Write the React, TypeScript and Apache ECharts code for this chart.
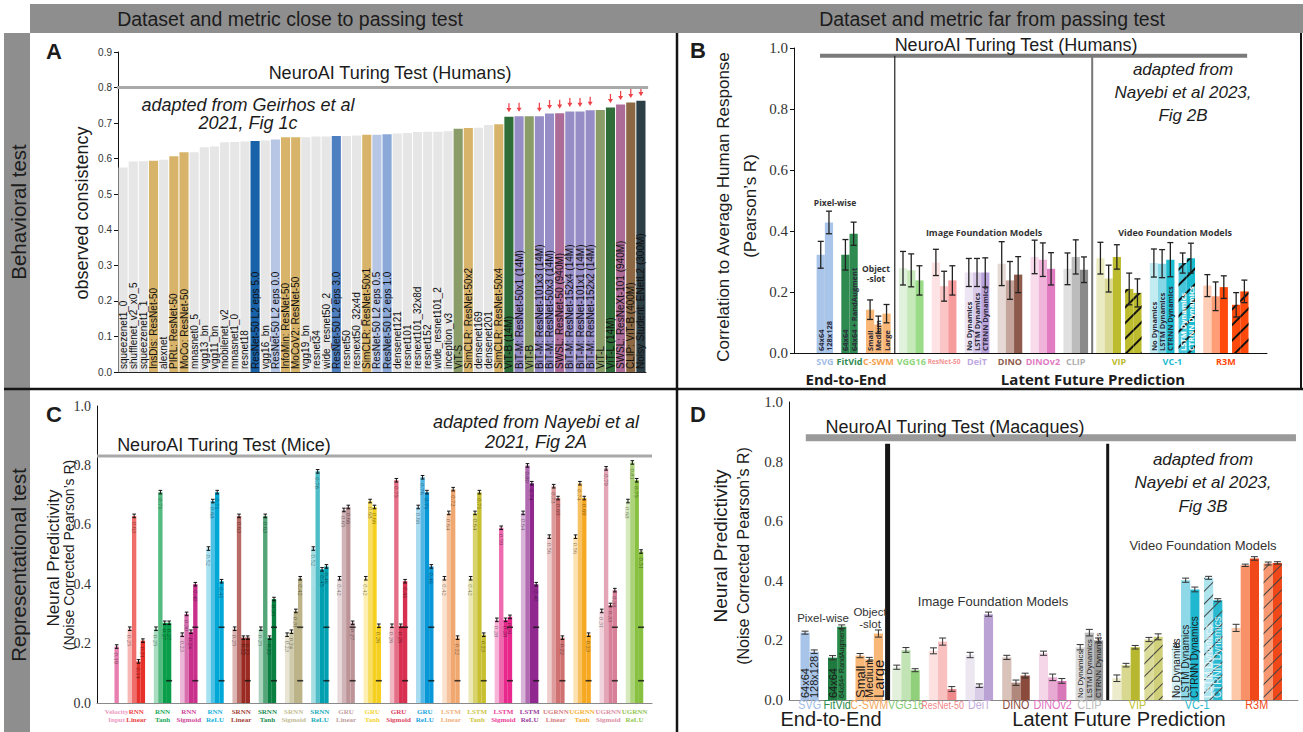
import React, { useEffect, useRef } from "react";
import * as echarts from "echarts";

/* ---------------- Panel A: behavioural consistency (Geirhos et al 2021) ---------------- */
const aModels = [
  "squeezenet1_0", "shufflenet_v2_x0_5", "squeezenet1_1", "InsDis: ResNet-50", "alexnet",
  "PIRL: ResNet-50", "MoCo: ResNet-50", "mnasnet0_5", "vgg13_bn", "vgg11_bn",
  "mobilenet_v2", "mnasnet1_0", "resnet18", "ResNet-50 L2 eps 5.0", "vgg16_bn",
  "ResNet-50 L2 eps 0.0", "InfoMin: ResNet-50", "MoCoV2: ResNet-50", "vgg19_bn", "resnet34",
  "wide_resnet50_2", "ResNet-50 L2 eps 3.0", "resnet50", "resnext50_32x4d", "SimCLR: ResNet-50x1",
  "ResNet-50 L2 eps 0.5", "ResNet-50 L2 eps 1.0", "densenet121", "resnet101", "resnext101_32x8d",
  "resnet152", "wide_resnet101_2", "inception_v3", "ViT-S", "SimCLR: ResNet-50x2",
  "densenet169", "densenet201", "SimCLR: ResNet-50x4", "ViT-B (14M)", "BiT-M: ResNet-50x1 (14M)",
  "ViT-B", "BiT-M: ResNet-101x3 (14M)", "BiT-M: ResNet-50x3 (14M)", "SWSL: ResNet-50 (940M)", "BiT-M: ResNet-152x4 (14M)",
  "BiT-M: ResNet-101x1 (14M)", "BiT-M: ResNet-152x2 (14M)", "ViT-L", "ViT-L (14M)", "SWSL: ResNeXt-101 (940M)",
  "CLIP: ViT-B (400M)", "Noisy Student: ENetL2 (300M)",
];
const aConsistency = [
  0.575, 0.592, 0.593, 0.594, 0.597,
  0.607, 0.618, 0.618, 0.632, 0.634,
  0.646, 0.647, 0.648, 0.650, 0.651,
  0.654, 0.660, 0.660, 0.660, 0.662,
  0.662, 0.664, 0.664, 0.665, 0.667,
  0.667, 0.669, 0.671, 0.672, 0.675,
  0.676, 0.676, 0.677, 0.684, 0.686,
  0.687, 0.695, 0.697, 0.718, 0.719,
  0.719, 0.719, 0.727, 0.728, 0.733,
  0.733, 0.736, 0.737, 0.744, 0.752,
  0.758, 0.763,
];
const aFamily = [
  "plain", "plain", "plain", "ssl", "plain",
  "ssl", "ssl", "plain", "plain", "plain",
  "plain", "plain", "plain", "rob5", "plain",
  "rob0", "ssl", "ssl", "plain", "plain",
  "plain", "rob3", "plain", "plain", "ssl",
  "rob0", "rob1", "plain", "plain", "plain",
  "plain", "plain", "plain", "vit", "ssl",
  "plain", "plain", "ssl", "vit14", "bit",
  "vit", "bit", "bit", "swsl", "bit",
  "bit", "bit", "vit", "vit14", "swsl",
  "clip", "noisy",
];
const aArrow = [
  0, 0, 0, 0, 0, 0, 0, 0, 0, 0,
  0, 0, 0, 0, 0, 0, 0, 0, 0, 0,
  0, 0, 0, 0, 0, 0, 0, 0, 0, 0,
  0, 0, 0, 0, 0, 0, 0, 0, 1, 1,
  0, 1, 1, 1, 1, 1, 1, 0, 1, 1,
  1, 1,
];
const aTuring = 0.8;

/* ---------------- Panel B: correlation to human responses ---------------- */
const bGroups = ["SVG", "FitVid", "C-SWM", "VGG16", "ResNet-50", "DeiT", "DINO", "DINOv2", "CLIP", "VIP", "VC-1", "R3M"];
const bMeans = [
  [0.322, 0.428], [0.322, 0.391], [0.142, 0.093, 0.129],
  [0.278, 0.271, 0.238], [0.297, 0.219, 0.238], [0.264, 0.264, 0.264],
  [0.293, 0.238, 0.257], [0.315, 0.306, 0.276], [0.276, 0.315, 0.273],
  [0.311, 0.244, 0.315, 0.21, 0.197], [0.295, 0.293, 0.306, 0.295, 0.311], [0.221, 0.186, 0.216, 0.158, 0.202],
];
const bErrs = [
  [0.044, 0.037], [0.05, 0.038], [0.032, 0.028, 0.03],
  [0.055, 0.054, 0.048], [0.043, 0.049, 0.048], [0.046, 0.046, 0.048],
  [0.072, 0.062, 0.059], [0.055, 0.055, 0.053], [0.052, 0.056, 0.042],
  [0.052, 0.044, 0.04, 0.052, 0.046], [0.046, 0.046, 0.056, 0.033, 0.049], [0.036, 0.047, 0.037, 0.04, 0.037],
];
const bHatched = [
  [0, 0], [0, 0], [0, 0, 0], [0, 0, 0], [0, 0, 0], [0, 0, 0], [0, 0, 0], [0, 0, 0], [0, 0, 0],
  [0, 0, 0, 1, 1], [0, 0, 0, 1, 1], [0, 0, 0, 1, 1],
];
const bBarNames = [
  ["64x64", "128x128"], ["64x64", "64x64 + RandAugment"], ["Small", "Medium", "Large"],
  [], [], ["No Dynamics", "LSTM Dynamics", "CTRNN Dynamics"], [], [], [], [],
  ["No Dynamics", "LSTM Dynamics", "CTRNN Dynamics", "LSTM Dynamics", "CTRNN Dynamics"], [],
];
const bTuring = 0.975;

/* ---------------- Panel C: mouse neural predictivity (Nayebi et al 2021) ---------------- */
const cGroups = [
  "Velocity\nInput", "RNN\nLinear", "RNN\nTanh", "RNN\nSigmoid", "RNN\nReLU",
  "SRNN\nLinear", "SRNN\nTanh", "SRNN\nSigmoid", "SRNN\nReLU",
  "GRU\nLinear", "GRU\nTanh", "GRU\nSigmoid", "GRU\nReLU",
  "LSTM\nLinear", "LSTM\nTanh", "LSTM\nSigmoid", "LSTM\nReLU",
  "UGRNN\nLinear", "UGRNN\nTanh", "UGRNN\nSigmoid", "UGRNN\nReLU",
];
const cScores = [
  [0.19],
  [0.25, 0.63, 0.14, 0.21], [0.25, 0.71, 0.27, 0.27], [0.23, 0.30, 0.24, 0.40], [0.52, 0.68, 0.71, 0.41],
  [0.25, 0.63, 0.22, 0.22], [0.25, 0.63, 0.22, 0.35], [0.23, 0.24, 0.31, 0.42], [0.52, 0.78, 0.45, 0.46],
  [0.42, 0.65, 0.66, 0.27], [0.42, 0.68, 0.66, 0.26], [0.26, 0.75, 0.26, 0.41], [0.66, 0.76, 0.71, 0.46],
  [0.42, 0.64, 0.72, 0.22], [0.42, 0.64, 0.71, 0.23], [0.28, 0.59, 0.28, 0.29], [0.64, 0.80, 0.74, 0.40],
  [0.56, 0.73, 0.69, 0.22], [0.56, 0.74, 0.69, 0.23], [0.31, 0.79, 0.33, 0.38], [0.68, 0.81, 0.75, 0.51],
];
const cErr = 0.006;
const cLowMark = 0.075;
const cHighMark = 0.255;
const cHasLowMark = [0, 0, 1, 1, 1, 1, 1, 1, 1, 1, 1, 1, 1, 1, 1, 1, 1, 1, 1, 1, 1];
const cHasHighMark = [0, 0, 0, 1, 1, 0, 1, 1, 1, 1, 0, 1, 1, 0, 0, 1, 1, 0, 0, 1, 1];
const cTuring = 0.832;

/* ---------------- Panel D: macaque neural predictivity (Nayebi et al 2023) ---------------- */
const dGroups = ["SVG", "FitVid", "C-SWM", "VGG16", "ResNet-50", "DeiT", "DINO", "DINOv2", "CLIP", "VIP", "VC-1", "R3M"];
const dMeans = [
  [0.226, 0.162], [0.142, 0.246], [0.149, 0.136, 0.223],
  [0.11, 0.168, 0.10], [0.165, 0.196, 0.037], [0.151, 0.048, 0.288],
  [0.143, 0.058, 0.082], [0.157, 0.076, 0.064], [0.177, 0.226, 0.20],
  [0.073, 0.117, 0.177, 0.203, 0.212], [0.184, 0.402, 0.371, 0.41, 0.335], [0.242, 0.452, 0.475, 0.458, 0.46],
];
const dErrs = [
  [0.005, 0.006], [0.007, 0.006], [0.007, 0.007, 0.012],
  [0.007, 0.008, 0.005], [0.01, 0.012, 0.008], [0.009, 0.006, 0.007],
  [0.007, 0.009, 0.008], [0.007, 0.011, 0.008], [0.009, 0.011, 0.008],
  [0.011, 0.006, 0.006, 0.007, 0.01], [0.005, 0.007, 0.008, 0.005, 0.005], [0.012, 0.004, 0.006, 0.005, 0.004],
];
const dHatched = [
  [0, 0], [0, 0], [0, 0, 0], [0, 0, 0], [0, 0, 0], [0, 0, 0], [0, 0, 0], [0, 0, 0], [0, 0, 0],
  [0, 0, 0, 1, 1], [0, 0, 0, 1, 1], [0, 0, 0, 1, 1],
];
const dBarNames = [
  ["64x64", "128x128"], ["64x64", "64x64+ RandAugment"], ["Small", "Medium", "Large"],
  [], [], [], [], [], ["No Dynamics", "LSTM Dynamics", "CTRNN Dynamics"], [],
  ["No Dynamics", "LSTM Dynamics", "CTRNN Dynamics", "LSTM Dynamics", "CTRNN Dynamics"], [],
];
const dTuring = 0.88;

/* ---------------- styles & layout ---------------- */
const SANS = '"Liberation Sans", Arial, Helvetica, sans-serif';
const SERIF = '"Liberation Serif", "Times New Roman", serif';
const MYRIAD = '"Open Sans", "Noto Sans", sans-serif';

const GA = { left: 118, top: 52, width: 528, height: 320 };
const GB = { left: 794, top: 48, width: 473, height: 305 };
const GC = { left: 97, top: 406, width: 555, height: 297 };
const GD = { left: 789, top: 402, width: 509, height: 298 };
// half-bar unit layout for B and D
const B_UNITS = { lead: 5.5, gap: 2, sub: 1, total: 115 };
const D_UNITS = { lead: 2.5, gap: 2, sub: 1, total: 111 };

const aColor: Record<string, string> = {
  plain: "#e6e6e6", ssl: "#d8b46a", rob0: "#b8c6e6", rob1: "#8aa8d8", rob3: "#4d7fc1", rob5: "#1862aa",
  vit: "#8a9d69", vit14: "#2f6e38", bit: "#978dc6", swsl: "#ad6b98", clip: "#8b6843", noisy: "#2c3e46",
};
const bPalette: Record<string, string[]> = {
  SVG: ["#a9c5e9", "#a9c5e9"],
  FitVid: ["#2f8a50", "#2f8a50"],
  "C-SWM": ["#f9b877", "#f9b877", "#f9b877"],
  VGG16: ["#e1f2dc", "#c5e9b8", "#9bdc88"],
  "ResNet-50": ["#fde3e3", "#fbc5c5", "#f79c9c"],
  DeiT: ["#ede5f3", "#d9cae9", "#bba4db"],
  DINO: ["#e6d8d4", "#c4a49b", "#8e5a4c"],
  DINOv2: ["#f8dcec", "#f0b4da", "#e27cc2"],
  CLIP: ["#e0e0e0", "#bcbcbc", "#8a8a8a"],
  VIP: ["#ececc4", "#dada96", "#bcbc2e", "#bcbc2e", "#bcbc2e"],
  "VC-1": ["#c2ebf2", "#86d7e5", "#1cbcd0", "#46c6d9", "#1cbcd0"],
  R3M: ["#ffcdb5", "#ff9d76", "#ff4a0c", "#ff4a0c", "#ff4a0c"],
};
const bLabelColor: Record<string, string> = {
  SVG: "#9fbce6", FitVid: "#2f8a50", "C-SWM": "#f5a050", VGG16: "#8fd67c", "ResNet-50": "#f59292",
  DeiT: "#c0a8e0", DINO: "#8e5a4c", DINOv2: "#e27cc2", CLIP: "#b0b0b0", VIP: "#bcbc2e", "VC-1": "#1cbcd0", R3M: "#ff4a0c",
};
const dPalette: Record<string, string[]> = {
  SVG: ["#a8c4e8", "#a8c4e8"],
  FitVid: ["#1f7a40", "#2a8c4c"],
  "C-SWM": ["#f9b878", "#f9b878", "#f9b878"],
  VGG16: ["#e2f0dc", "#c2e4b4", "#90d07a"],
  "ResNet-50": ["#fde0e0", "#f9c0c0", "#ef8a8a"],
  DeiT: ["#ece6f0", "#d9cce6", "#bba2d4"],
  DINO: ["#d9c2ba", "#b0897c", "#8a4a3c"],
  DINOv2: ["#f4d6e8", "#e8aad2", "#d878b8"],
  CLIP: ["#dcdcdc", "#bebebe", "#9a9a9a"],
  VIP: ["#ececcc", "#d8d890", "#b8b830", "#dcdc9a", "#d0d07a"],
  "VC-1": ["#d4f0f6", "#8ed8e8", "#20b8d0", "#aee4ee", "#28b8d0"],
  R3M: ["#fcc8a8", "#f89068", "#f04818", "#f89870", "#f04818"],
};
const dLabelColor: Record<string, string> = {
  SVG: "#a0bce6", FitVid: "#2a8c4c", "C-SWM": "#f5a860", VGG16: "#88cc78", "ResNet-50": "#f08888",
  DeiT: "#c4acdc", DINO: "#8a4a3c", DINOv2: "#e070c0", CLIP: "#bbbbbb", VIP: "#c0c030", "VC-1": "#28b8d0", R3M: "#f04818",
};
const dBarLabelSize: Record<string, number[]> = {
  SVG: [11, 11], FitVid: [11, 7], "C-SWM": [13, 11, 15], CLIP: [8, 8, 8], "VC-1": [10, 10, 10, 10, 10],
};
const cBase = [
  "#e87fb0", "#e8302a", "#0a9e4a", "#c8308c", "#00a8d8",
  "#9a2a22", "#0a8040", "#bcb488", "#00a0b0",
  "#bc9498", "#f5d020", "#d83050", "#0898d8",
  "#f0a870", "#c8c030", "#e8288c", "#902890",
  "#d07070", "#f5a820", "#d88098", "#88c040",
];
const cShade = [0.35, 0.7, 1, 1];

function mix(hex: string, f: number) {
  const n = parseInt(hex.slice(1), 16);
  const r = (n >> 16) & 255, g = (n >> 8) & 255, b = n & 255;
  const m = (c: number) => Math.round(255 - (255 - c) * f);
  return `rgb(${m(r)},${m(g)},${m(b)})`;
}

// C: one category per bar, gaps are empty categories
function buildSlots(sizes: number[], lead: number, gap: number, trail: number) {
  const slots: ({ g: number; i: number } | null)[] = [];
  const start: number[] = [];
  for (let k = 0; k < lead; k++) slots.push(null);
  sizes.forEach((n, g) => {
    if (g > 0) for (let k = 0; k < gap; k++) slots.push(null);
    start.push(slots.length);
    for (let i = 0; i < n; i++) slots.push({ g, i });
  });
  for (let k = 0; k < trail; k++) slots.push(null);
  return { slots, start };
}

// B, D: categories are half-bar units; each bar is centred on a category and spans two units
function buildUnits(sizes: number[], hatched: number[][], cfg: { lead: number; gap: number; sub: number }) {
  const pos: number[][] = [];
  const left: number[] = [];
  const right: number[] = [];
  let e = cfg.lead;
  sizes.forEach((n, g) => {
    if (g > 0) e += cfg.gap;
    left.push(e);
    const p: number[] = [];
    for (let i = 0; i < n; i++) {
      if (i > 0 && hatched[g][i] && !hatched[g][i - 1]) e += cfg.sub;
      p.push(e + 0.5);
      e += 2;
    }
    right.push(e);
    pos.push(p);
  });
  return { pos, left, right };
}

const txt = (text: string, x: number, y: number, size: number, o: any = {}) => ({
  type: "text",
  x,
  y,
  rotation: o.rot || 0,
  scaleX: o.sx || 1,
  z: 20,
  silent: true,
  style: {
    text,
    fill: o.color || "#1c1c1c",
    font: `${o.style || "normal"} ${o.weight || "normal"} ${size}px ${o.family || SANS}`,
    align: o.align || "center",
    verticalAlign: o.va || "middle",
    textAlign: o.align || "center",
    textVerticalAlign: o.va || "middle",
    lineHeight: o.lh || size * 1.2,
  },
});

function errSeries(idx: number, data: number[][], cap: number, lw: number, color: string) {
  return {
    type: "custom",
    xAxisIndex: idx,
    yAxisIndex: idx,
    silent: true,
    z: 6,
    data,
    renderItem: (_p: any, api: any) => {
      const x = api.value(0), lo = api.value(1), hi = api.value(2);
      const a = api.coord([x, lo]);
      const b = api.coord([x, hi]);
      const st = { stroke: color, lineWidth: lw };
      const children: any[] = [{ type: "line", shape: { x1: a[0], y1: a[1], x2: b[0], y2: b[1] }, style: st }];
      if (cap > 0) {
        children.push({ type: "line", shape: { x1: a[0] - cap, y1: a[1], x2: a[0] + cap, y2: a[1] }, style: st });
        children.push({ type: "line", shape: { x1: b[0] - cap, y1: b[1], x2: b[0] + cap, y2: b[1] }, style: st });
      }
      return { type: "group", children };
    },
  };
}

function hLine(idx: number, value: number, f0: number, f1: number, color: string, width: number) {
  return {
    type: "custom",
    xAxisIndex: idx,
    yAxisIndex: idx,
    silent: true,
    z: 5,
    data: [[0, value]],
    renderItem: (p: any, api: any) => {
      const cs = p.coordSys;
      const y = api.coord([0, api.value(1)])[1];
      return {
        type: "line",
        shape: { x1: cs.x + f0 * cs.width, y1: y, x2: cs.x + f1 * cs.width, y2: y },
        style: { stroke: color, lineWidth: width },
      };
    },
  };
}

function catAxis(gi: number, data: string[], lineColor: string) {
  return {
    type: "category",
    gridIndex: gi,
    data,
    axisLine: { show: true, lineStyle: { color: lineColor, width: 1 } },
    axisTick: { show: false },
    axisLabel: { show: false },
    splitLine: { show: false },
  };
}
function valAxis(gi: number, max: number, interval: number, size: number, family: string, ticks: boolean) {
  return {
    type: "value",
    gridIndex: gi,
    min: 0,
    max,
    interval,
    axisLine: { show: true, lineStyle: { color: "#111", width: 1 } },
    axisTick: { show: ticks, length: 4, lineStyle: { color: "#111" } },
    splitLine: { show: false },
    axisLabel: { fontSize: size, fontFamily: family, color: "#333", margin: 6, formatter: (v: number) => v.toFixed(1) },
  };
}

function unitBars(
  lay: { pos: number[][] }, total: number,
  groups: string[], means: number[][], palette: Record<string, string[]>,
  hatched: number[][], names: string[][], decal: any, labelFn: (g: string, i: number, hatched: boolean) => any
) {
  const data: any[] = Array.from({ length: total }, () => "-");
  lay.pos.forEach((p, gi) => {
    p.forEach((k, i) => {
      const g = groups[gi];
      const h = !!hatched[gi][i];
      const item: any = { value: means[gi][i], itemStyle: { color: palette[g][i] } };
      if (h) item.itemStyle.decal = decal;
      const t = names[gi][i];
      if (t) item.label = { show: true, formatter: t, ...labelFn(g, i, h) };
      data[k] = item;
    });
  });
  return data;
}

function buildOption() {
  const bLay = buildUnits(bMeans.map((a) => a.length), bHatched, B_UNITS);
  const cLay = buildSlots(cScores.map((a) => a.length), 4, 2, 2);
  const dLay = buildUnits(dMeans.map((a) => a.length), dHatched, D_UNITS);
  const names = (n: number) => Array.from({ length: n }, (_, k) => "u" + k);
  const bU = GB.width / B_UNITS.total;
  const dU = GD.width / D_UNITS.total;

  const series: any[] = [];

  /* ---- A ---- */
  series.push({
    type: "bar",
    xAxisIndex: 0,
    yAxisIndex: 0,
    barCategoryGap: "10%",
    data: aConsistency.map((v, i) => ({ value: v, itemStyle: { color: aColor[aFamily[i]] } })),
    label: {
      show: true,
      formatter: (p: any) => aModels[p.dataIndex],
      position: "insideBottom",
      rotate: 90,
      align: "left",
      verticalAlign: "middle",
      distance: 3,
      fontSize: 10,
      fontFamily: SANS,
      color: "#111",
    },
  });
  series.push({
    type: "scatter",
    xAxisIndex: 0,
    yAxisIndex: 0,
    symbol: "path://M3,0 L5,0 L5,6 L8,6 L4,11 L0,6 L3,6 Z",
    symbolSize: [5, 9],
    symbolOffset: [0, -9],
    itemStyle: { color: "#e8141c" },
    data: aConsistency.map((v, i) => (aArrow[i] ? [i, v] : null)).filter((d) => d),
  });
  series.push(hLine(0, aTuring, -0.002, 1.004, "#a9a9a9", 3));

  /* ---- B ---- */
  const bDecal = { symbol: "rect", symbolSize: 1, dashArrayX: [1, 0], dashArrayY: [1.3, 9], rotation: -Math.PI / 4, color: "#111" };
  series.push({
    type: "bar",
    xAxisIndex: 1,
    yAxisIndex: 1,
    barWidth: 2 * bU,
    data: unitBars(bLay, B_UNITS.total, bGroups, bMeans, bPalette, bHatched, bBarNames, bDecal, (_g, _i, h) => ({
      position: "insideBottom",
      rotate: 90,
      align: "left",
      verticalAlign: "middle",
      distance: 2,
      fontSize: 7.5,
      fontWeight: "bold",
      fontFamily: MYRIAD,
      color: h ? "#ffffff" : "#2a2a3a",
    })),
  });
  const bErrData: number[][] = [];
  bLay.pos.forEach((p, g) => p.forEach((k, i) => bErrData.push([k, bMeans[g][i] - bErrs[g][i], bMeans[g][i] + bErrs[g][i]])));
  series.push(errSeries(1, bErrData, 3, 1.3, "#222"));
  series.push(hLine(1, bTuring, 0.055, 0.958, "#7a7a7a", 4));
  series.push(errSeries(1, [[bLay.right[2] + 0.5, 0, bTuring]], 0, 1.2, "#222"));
  series.push(errSeries(1, [[bLay.right[8] + 0.5, 0, bTuring]], 0, 2, "#777"));

  /* ---- C ---- */
  series.push({
    type: "bar",
    xAxisIndex: 2,
    yAxisIndex: 2,
    barCategoryGap: 0,
    data: cLay.slots.map((s) => {
      if (!s) return "-";
      const n = cScores[s.g].length;
      const f = n === 1 ? 1 : cShade[s.i];
      return { value: cScores[s.g][s.i], itemStyle: { color: mix(cBase[s.g], f) } };
    }),
    label: {
      show: true,
      position: "insideTop",
      rotate: -90,
      align: "left",
      verticalAlign: "middle",
      distance: 6,
      fontSize: 6.5,
      fontFamily: SERIF,
      color: "rgba(0,0,0,0.5)",
      formatter: (p: any) => Number(p.value).toFixed(2),
    },
  });
  const cErrData: number[][] = [];
  cLay.slots.forEach((s, k) => {
    if (s) cErrData.push([k, cScores[s.g][s.i] - cErr, cScores[s.g][s.i] + cErr]);
  });
  series.push(errSeries(2, cErrData, 1.8, 1, "#111"));
  const cMarks: number[][] = [];
  cGroups.forEach((_, g) => {
    const last = cLay.start[g] + cScores[g].length - 1;
    if (cHasLowMark[g]) cMarks.push([last, cLowMark]);
    if (cHasHighMark[g]) cMarks.push([last, cHighMark]);
  });
  series.push({
    type: "scatter",
    xAxisIndex: 2,
    yAxisIndex: 2,
    symbol: "rect",
    symbolSize: [6, 1.6],
    itemStyle: { color: "#111" },
    z: 7,
    data: cMarks,
  });
  series.push(hLine(2, cTuring, 0, 1, "#a9a9a9", 3));

  /* ---- D ---- */
  const dDecal = { symbol: "rect", symbolSize: 1, dashArrayX: [1, 0], dashArrayY: [0.8, 8], rotation: -Math.PI / 4, color: "#444" };
  series.push({
    type: "bar",
    xAxisIndex: 3,
    yAxisIndex: 3,
    barWidth: 2 * dU,
    data: unitBars(dLay, D_UNITS.total, dGroups, dMeans, dPalette, dHatched, dBarNames, dDecal, (g, i, h) => ({
      position: "insideBottom",
      rotate: 90,
      align: "left",
      verticalAlign: "middle",
      distance: 2,
      fontSize: (dBarLabelSize[g] || [9, 9, 9, 9, 9])[i],
      fontFamily: SANS,
      color: h ? "rgba(255,255,255,0.85)" : "#1a1a1a",
    })),
  });
  const dErrData: number[][] = [];
  dLay.pos.forEach((p, g) => p.forEach((k, i) => dErrData.push([k, dMeans[g][i] - dErrs[g][i], dMeans[g][i] + dErrs[g][i]])));
  series.push(errSeries(3, dErrData, 3.5, 1, "#333"));
  series.push(hLine(3, dTuring, 0.033, 0.996, "#9a9a9a", 7));
  series.push(errSeries(3, [[dLay.right[2] + 0.5, 0, 0.86]], 0, 5, "#151515"));
  series.push(errSeries(3, [[dLay.right[8] + 0.5, 0, 0.86]], 0, 3, "#151515"));

  /* ---- graphic: frames, titles, annotations ---- */
  const gfx: any[] = [];
  gfx.push({ type: "rect", silent: true, z: 0, shape: { x: 30, y: 4, width: 1273, height: 29 }, style: { fill: "#8e8e8e" } });
  gfx.push({ type: "rect", silent: true, z: 0, shape: { x: 4, y: 33, width: 26, height: 699 }, style: { fill: "#8e8e8e" } });
  gfx.push({ type: "line", silent: true, z: 1, shape: { x1: 4, y1: 389, x2: 1303, y2: 389 }, style: { stroke: "#141414", lineWidth: 2.5 } });
  gfx.push({ type: "line", silent: true, z: 1, shape: { x1: 677, y1: 33, x2: 677, y2: 732 }, style: { stroke: "#141414", lineWidth: 2.5 } });
  gfx.push({ type: "line", silent: true, z: 1, shape: { x1: 1301, y1: 33, x2: 1301, y2: 389 }, style: { stroke: "#141414", lineWidth: 2 } });

  gfx.push(txt("Dataset and metric close to passing test", 290, 19, 19.5));
  gfx.push(txt("Dataset and metric far from passing test", 992, 19, 19.5));
  gfx.push(txt("Behavioral test", 18, 212, 20.5, { rot: Math.PI / 2 }));
  gfx.push(txt("Representational test", 18, 565, 20.5, { rot: Math.PI / 2 }));

  gfx.push(txt("A", 54, 51, 22, { weight: "bold" }));
  gfx.push(txt("B", 698, 50, 22, { weight: "bold" }));
  gfx.push(txt("C", 54, 414, 22, { weight: "bold" }));
  gfx.push(txt("D", 698, 414, 22, { weight: "bold" }));

  // A
  gfx.push(txt("NeuroAI Turing Test (Humans)", 390, 73, 18));
  gfx.push(txt("adapted from Geirhos et al", 248, 105, 18, { style: "italic" }));
  gfx.push(txt("2021, Fig 1c", 248, 123, 18, { style: "italic" }));
  gfx.push(txt("observed consistency", 82, 213, 18, { rot: Math.PI / 2 }));

  // B
  gfx.push(txt("NeuroAI Turing Test (Humans)", 1016, 45, 18));
  gfx.push(txt("adapted from", 1183, 69, 17, { style: "italic" }));
  gfx.push(txt("Nayebi et al 2023,", 1183, 92, 17, { style: "italic" }));
  gfx.push(txt("Fig 2B", 1183, 115, 17, { style: "italic" }));
  gfx.push(txt("Correlation to Average Human Response", 723, 207, 17, { rot: Math.PI / 2 }));
  gfx.push(txt("(Pearson\u2019s R)", 750, 206, 17, { rot: Math.PI / 2 }));
  bGroups.forEach((g, k) => {
    const cx = GB.left + ((bLay.left[k] + bLay.right[k]) / 2) * bU;
    gfx.push(txt(g, cx, 361, g === "ResNet-50" ? 6.5 : 9, { weight: "bold", family: MYRIAD, color: bLabelColor[g] }));
  });
  gfx.push(txt("End-to-End", 846, 379, 15, { weight: "bold", family: MYRIAD }));
  gfx.push(txt("Latent Future Prediction", 1093, 379, 15, { weight: "bold", family: MYRIAD }));
  gfx.push(txt("Pixel-wise", 835, 202, 8.5, { weight: "bold", family: MYRIAD, color: "#333" }));
  gfx.push(txt("Object", 876, 268, 8.5, { weight: "bold", family: MYRIAD, color: "#333" }));
  gfx.push(txt("-slot", 876, 278, 8.5, { weight: "bold", family: MYRIAD, color: "#333" }));
  gfx.push(txt("Image Foundation Models", 984, 232, 9, { weight: "bold", family: MYRIAD, color: "#333" }));
  gfx.push(txt("Video Foundation Models", 1175, 232, 9, { weight: "bold", family: MYRIAD, color: "#333" }));

  // C
  gfx.push(txt("NeuroAI Turing Test (Mice)", 224, 445, 18));
  gfx.push(txt("adapted from Nayebi et al", 536, 422, 18, { style: "italic" }));
  gfx.push(txt("2021, Fig 2A", 536, 442, 18, { style: "italic" }));
  gfx.push(txt("Neural Predictivity", 53, 558, 17, { rot: Math.PI / 2 }));
  gfx.push(txt("(Noise Corrected Pearson\u2019s R)", 69, 555, 14, { rot: Math.PI / 2 }));
  const cSlotW = GC.width / cLay.slots.length;
  cGroups.forEach((g, k) => {
    const cx = GC.left + (cLay.start[k] + cScores[k].length / 2) * cSlotW;
    gfx.push(txt(g, cx, 716, 7, { weight: "bold", family: SERIF, color: mix(cBase[k], k === 0 ? 0.8 : 0.9), lh: 8.5 }));
  });

  // D
  gfx.push(txt("NeuroAI Turing Test (Macaques)", 955, 427, 18));
  gfx.push(txt("adapted from", 1203, 459, 17, { style: "italic" }));
  gfx.push(txt("Nayebi et al 2023,", 1203, 482, 17, { style: "italic" }));
  gfx.push(txt("Fig 3B", 1203, 506, 17, { style: "italic" }));
  gfx.push(txt("Neural Predictivity", 720, 546, 19, { rot: Math.PI / 2 }));
  gfx.push(txt("(Noise Corrected Pearson\u2019s R)", 743, 556, 16, { rot: Math.PI / 2 }));
  dGroups.forEach((g, k) => {
    const cx = GD.left + ((dLay.left[k] + dLay.right[k]) / 2) * dU;
    gfx.push(txt(g, cx, 705, g === "ResNet-50" ? 10.5 : 13.5, { color: dLabelColor[g], sx: g === "ResNet-50" ? 0.85 : 0.8 }));
  });
  gfx.push(txt("End-to-End", 831, 719, 20));
  gfx.push(txt("Latent Future Prediction", 1119, 719, 20));
  gfx.push(txt("Pixel-wise", 823, 618, 11.5, { color: "#333" }));
  gfx.push(txt("Object", 870, 612, 11.5, { color: "#333" }));
  gfx.push(txt("-slot", 870, 624, 11.5, { color: "#333" }));
  gfx.push(txt("Image Foundation Models", 993, 601, 13, { color: "#333" }));
  gfx.push(txt("Video Foundation Models", 1203, 545, 13, { color: "#333" }));

  return {
    animation: false,
    backgroundColor: "#ffffff",
    grid: [
      { ...GA, containLabel: false },
      { ...GB, containLabel: false },
      { ...GC, containLabel: false },
      { ...GD, containLabel: false },
    ],
    xAxis: [
      catAxis(0, aModels, "#222"),
      catAxis(1, names(B_UNITS.total), "#111"),
      catAxis(2, names(cLay.slots.length), "#8a8a8a"),
      catAxis(3, names(D_UNITS.total), "#8a8a8a"),
    ],
    yAxis: [
      valAxis(0, 0.9, 0.1, 10, SANS, true),
      valAxis(1, 1.0, 0.2, 15, SERIF, true),
      valAxis(2, 1.0, 0.2, 14, SERIF, false),
      valAxis(3, 1.0, 0.2, 15, SERIF, false),
    ],
    series,
    graphic: gfx,
  };
}

export default function App() {
  const ref = useRef<HTMLDivElement>(null);
  useEffect(() => {
    if (!ref.current) return;
    const chart = echarts.init(ref.current, undefined, { renderer: "svg" });
    chart.setOption(buildOption() as any);
    return () => chart.dispose();
  }, []);
  return (
    <div
      ref={ref}
      style={{ position: "fixed", left: 0, top: 0, width: 1303, height: 732, background: "#fff" }}
    />
  );
}
